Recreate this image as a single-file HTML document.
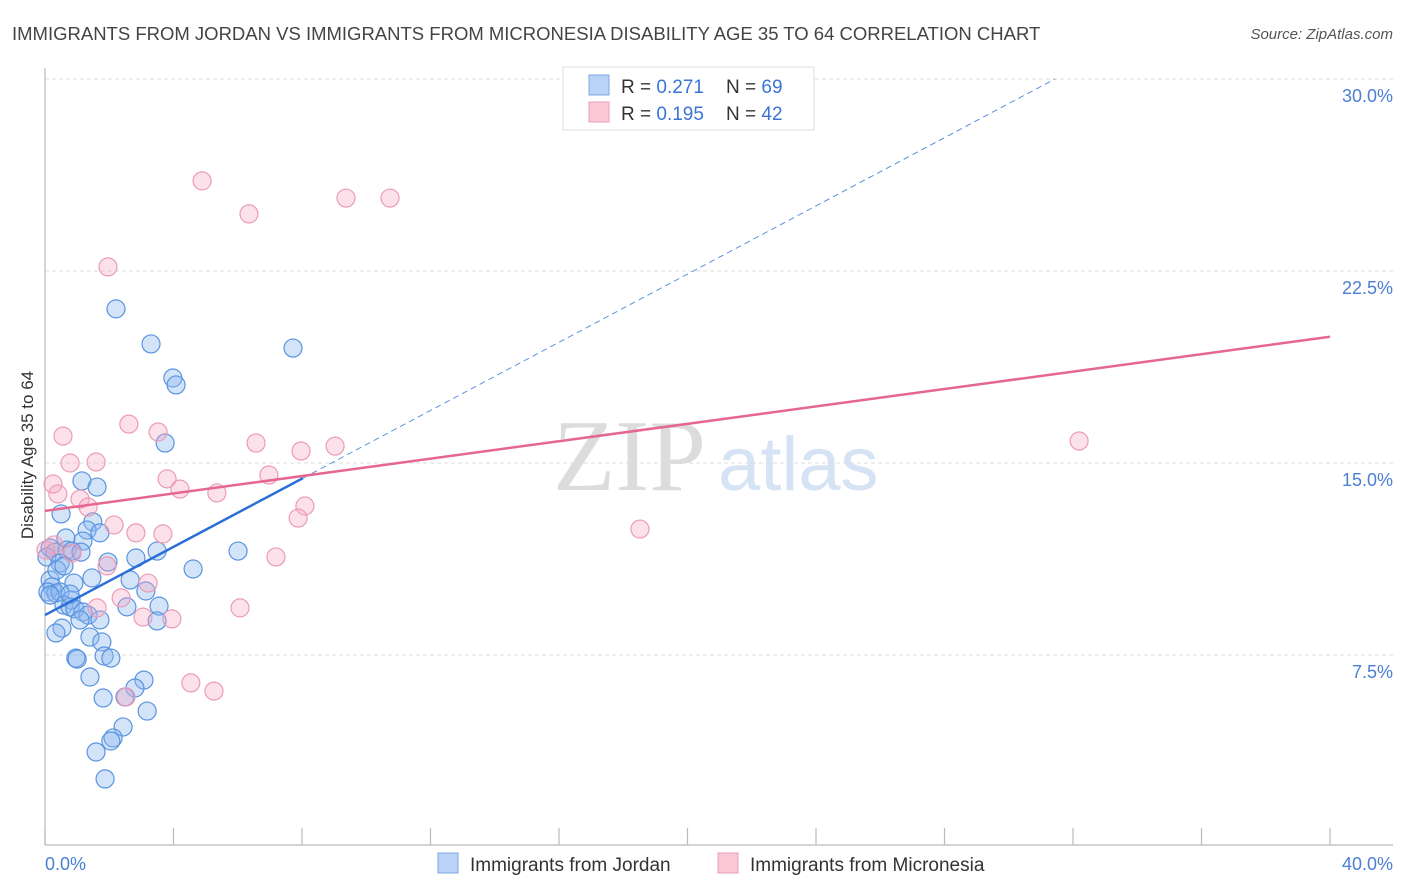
<!DOCTYPE html>
<html><head><meta charset="utf-8"><style>
body{margin:0;background:#fff;}
svg{display:block;font-family:"Liberation Sans",sans-serif;}
</style></head><body>
<svg id="chart" width="1406" height="892" viewBox="0 0 1406 892">
<text x="12" y="40" font-size="18.5" fill="#444">IMMIGRANTS FROM JORDAN VS IMMIGRANTS FROM MICRONESIA DISABILITY AGE 35 TO 64 CORRELATION CHART</text>
<text x="1393" y="39" font-size="15" fill="#555" font-style="italic" text-anchor="end">Source: ZipAtlas.com</text>
<g>
<text x="553" y="490" font-family="Liberation Serif,serif" font-size="102" fill="#dcdcdc">ZIP</text>
<text x="718" y="490" font-size="76" fill="#d6e3f5">atlas</text>
</g>
<g id="grid"></g>
<line x1="45" y1="68" x2="45" y2="845" stroke="#bbb" stroke-width="1.2"/>
<line x1="45" y1="845" x2="1393" y2="845" stroke="#bbb" stroke-width="1.2"/>
<g id="xticks"></g>
<g id="ylabels"></g>
<text x="45" y="870" font-size="18" fill="#4a7fd4">0.0%</text>
<text x="1393" y="870" font-size="18" fill="#4a7fd4" text-anchor="end">40.0%</text>
<text transform="translate(33,455) rotate(-90)" font-size="17" fill="#333" text-anchor="middle">Disability Age 35 to 64</text>
<g id="points"></g>
<g id="trends"></g>
<g>
<rect x="563" y="67" width="251" height="63" fill="#fff" stroke="#ddd"/>
<rect x="589" y="75" width="20" height="20" fill="#b8d3f5" stroke="#7ba7e3"/>
<rect x="589" y="102" width="20" height="20" fill="#fbc8d8" stroke="#eba0b8"/>
<text x="621" y="93" font-size="19" fill="#333">R = <tspan fill="#3a74d6">0.271</tspan><tspan x="726">N = </tspan><tspan fill="#3a74d6">69</tspan></text>
<text x="621" y="120" font-size="19" fill="#333">R = <tspan fill="#3a74d6">0.195</tspan><tspan x="726">N = </tspan><tspan fill="#3a74d6">42</tspan></text>
</g>
<g>
<rect x="438" y="853" width="20" height="20" fill="#b8d3f5" stroke="#7ba7e3"/>
<text x="470" y="871" font-size="19" fill="#333">Immigrants from Jordan</text>
</g>
<g>
<rect x="718" y="853" width="20" height="20" fill="#fbc8d8" stroke="#eba0b8"/>
<text x="750" y="871" font-size="19" fill="#333">Immigrants from Micronesia</text>
</g>
</svg>
<script>
const yTicks=[7.5,15,22.5,30];
const yTickLabels=["7.5%","15.0%","22.5%","30.0%"];
const xTicks=[0,4,8,12,16,20,24,28,32,36,40];
const jordanX=[2.21,3.30,7.72,3.98,4.08,3.74,1.15,1.62,0.50,1.49,1.31,1.71,1.18,0.65,0.16,0.68,0.31,0.84,1.12,0.06,0.47,1.96,2.83,3.49,6.01,4.61,1.46,0.90,0.16,0.22,0.09,0.34,0.47,3.14,0.81,0.59,0.78,0.93,1.18,2.55,3.55,1.34,1.09,3.49,0.53,0.34,1.40,1.77,0.96,1.00,1.84,2.05,1.40,3.08,2.80,1.81,2.49,3.18,2.43,2.12,2.05,1.59,1.87,0.16,0.37,0.59,1.71,0.78,2.65];
const jordanY=[21.02,19.65,19.49,18.32,18.05,15.78,14.30,14.06,13.01,12.70,12.38,12.27,11.95,12.07,11.68,11.60,11.52,11.56,11.52,11.33,11.09,11.13,11.29,11.56,11.56,10.86,10.51,10.31,10.43,10.16,9.96,9.92,9.96,10.00,9.65,9.45,9.38,9.30,9.18,9.38,9.41,9.06,8.87,8.83,8.55,8.36,8.20,8.01,7.38,7.34,7.46,7.38,6.64,6.52,6.21,5.82,5.86,5.31,4.69,4.26,4.14,3.71,2.66,9.84,10.82,10.98,8.87,9.88,10.43];
const microX=[4.89,9.37,10.74,6.35,1.96,0.56,2.61,3.52,6.57,7.97,9.03,0.78,1.59,0.25,0.40,3.80,4.20,5.35,6.97,1.09,1.34,8.09,7.88,2.15,2.83,3.67,0.28,0.84,7.19,1.93,3.21,2.37,1.62,6.07,3.05,3.95,4.54,5.26,2.52,18.52,32.19,0.03];
const microY=[26.02,25.35,25.35,24.73,22.66,16.05,16.52,16.21,15.78,15.47,15.66,15.00,15.04,14.18,13.79,14.38,13.98,13.83,14.53,13.59,13.28,13.32,12.85,12.58,12.27,12.23,11.80,11.48,11.33,10.98,10.31,9.73,9.34,9.34,8.98,8.91,6.41,6.09,5.86,12.42,15.86,11.60];
const jordanTrend=[9.06,0.666];
const microTrend=[13.13,0.17];
const NS="http://www.w3.org/2000/svg";
const sx=v=>45+v*32.125;
const sy=v=>847-v*25.6;
function mk(tag,attrs,parent){const e=document.createElementNS(NS,tag);for(const k in attrs)e.setAttribute(k,attrs[k]);parent.appendChild(e);return e;}
const grid=document.getElementById('grid'),yl=document.getElementById('ylabels'),xt=document.getElementById('xticks');
yTicks.forEach((t,i)=>{
 const l=mk('line',{x1:45,x2:1393,y1:sy(t),y2:sy(t),stroke:'#ddd','stroke-dasharray':'4,3'},grid);
 
 
 const tx=mk('text',{x:1393,y:sy(t)+23,'font-size':18,fill:'#4a7fd4','text-anchor':'end'},yl);
 tx.textContent=yTickLabels[i];
 
 
});
xTicks.forEach(t=>{
 const l=mk('line',{x1:sx(t),x2:sx(t),y1:828,y2:845,stroke:'#bbb','stroke-width':1.2},xt);
 
 
});
const pts=document.getElementById('points');
jordanX.forEach((x,i)=>{
 const c=mk('circle',{cx:sx(x),cy:sy(jordanY[i]),r:9,fill:'rgba(140,185,240,0.38)',stroke:'#5a93e0','stroke-width':1.2},pts);
 
 
});
microX.forEach((x,i)=>{
 const c=mk('circle',{cx:sx(x),cy:sy(microY[i]),r:9,fill:'rgba(245,165,190,0.33)',stroke:'#eb9cb6','stroke-width':1.2},pts);
 
 
});
const tr=document.getElementById('trends');
const jx1=8.03,jx2=(30-jordanTrend[0])/jordanTrend[1];
const d=mk('line',{x1:sx(jx1),y1:sy(jordanTrend[0]+jordanTrend[1]*jx1),x2:sx(jx2),y2:sy(30),stroke:'#5a93e0','stroke-width':1,'stroke-dasharray':'6,4'},tr);


const j=mk('line',{x1:sx(0),y1:sy(jordanTrend[0]),x2:sx(jx1),y2:sy(jordanTrend[0]+jordanTrend[1]*jx1),stroke:'#2a6fd8','stroke-width':2.5},tr);


const m=mk('line',{x1:sx(0),y1:sy(microTrend[0]),x2:sx(40),y2:sy(microTrend[0]+microTrend[1]*40),stroke:'#e5678f','stroke-width':2.5},tr);


</script>
</body></html>
